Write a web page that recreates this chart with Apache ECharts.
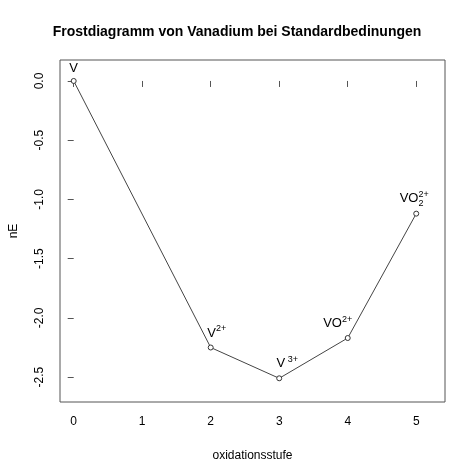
<!DOCTYPE html>
<html>
<head>
<meta charset="utf-8">
<script src="https://cdn.jsdelivr.net/npm/echarts@6/dist/echarts.min.js"></script>
<style>html,body{margin:0;padding:0;background:#fff}#chart{width:474px;height:473px}</style>
</head>
<body>
<div id="chart"></div>
<script>
// Frost diagram values
let oxStates = [0, 2, 3, 4, 5]
let nE = [0.0, -2.25, -2.51, -2.17, -1.12]
let xTicks = [0, 1, 2, 3, 4, 5]
let yTicks = [0, -0.5, -1, -1.5, -2, -2.5]

// labels per point (rich text), with offsets
let pointLabels = [
  { text: "{b|V}", pos: "top", off: [0, 2] },
  { text: "{b|V}{sup|2+}", pos: "top", off: [6, 2] },
  { text: "{b|V}{sup| 3+}", pos: "top", off: [8, 2] },
  { text: "{b|VO}{sup|2+}", pos: "top", off: [-10, 2] },
  { text: "{b|VO}{sub|2}{sup2|2+}", pos: "top", off: [-2, 2] }
]

let rich = {
  b: { fontSize: 13, color: "#000", fontFamily: "Liberation Sans" },
  sup: { fontSize: 9, color: "#000", verticalAlign: "top", padding: [0, 0, 8, 0], fontFamily: "Liberation Sans" },
  sub: { fontSize: 9, color: "#000", padding: [10, 0, 0, 0], fontFamily: "Liberation Sans" },
  sup2: { fontSize: 9, color: "#000", padding: [0, 0, 8, -5], fontFamily: "Liberation Sans" }
}

let data = []
for (let i = 0; i < oxStates.length; i++) {
  let l = pointLabels[i]
  data.push({
    value: [oxStates[i], nE[i]],
    label: { show: true, formatter: l.text, position: l.pos, offset: l.off, rich: rich }
  })
}

let myChart = echarts.init(document.getElementById("chart"))
let option = {
  animation: false,
  textStyle: { fontFamily: "Liberation Sans" },
  title: {
    text: "Frostdiagramm von Vanadium bei Standardbedinungen",
    left: "center",
    top: 20,
    textStyle: { fontSize: 14, fontWeight: "bold", color: "#000", fontFamily: "Liberation Sans" }
  },
  grid: { left: 57, right: 29, top: 60, bottom: 71, show: true, borderColor: "#555", borderWidth: 1 },
  xAxis: {
    type: "value",
    min: -0.2,
    max: 5.42,
    name: "oxidationsstufe",
    nameLocation: "middle",
    nameGap: 48,
    nameTextStyle: { fontSize: 12, color: "#000" },
    axisLine: { show: false },
    splitLine: { show: false },
    axisTick: { show: true, customValues: xTicks, length: 6, lineStyle: { color: "#555" } },
    axisLabel: { customValues: xTicks, fontSize: 12, color: "#000", margin: 14 }
  },
  yAxis: {
    type: "value",
    min: -2.71,
    max: 0.177,
    name: "nE",
    nameLocation: "middle",
    nameGap: 40,
    nameRotate: 90,
    nameTextStyle: { fontSize: 12, color: "#000" },
    axisLine: { show: false },
    splitLine: { show: false },
    axisTick: { show: true, customValues: yTicks, length: 6, lineStyle: { color: "#555" } },
    axisLabel: {
      customValues: yTicks,
      rotate: 90,
      fontSize: 12,
      color: "#000",
      margin: 14,
      formatter: function (v) { return v.toFixed(1) }
    }
  },
  series: [
    {
      type: "line",
      data: data,
      symbol: "circle",
      symbolSize: 5,
      itemStyle: { color: "#fff", borderColor: "#333", borderWidth: 1 },
      lineStyle: { color: "#444", width: 1 }
    }
  ]
}
myChart.setOption(option)
</script>
</body>
</html>
